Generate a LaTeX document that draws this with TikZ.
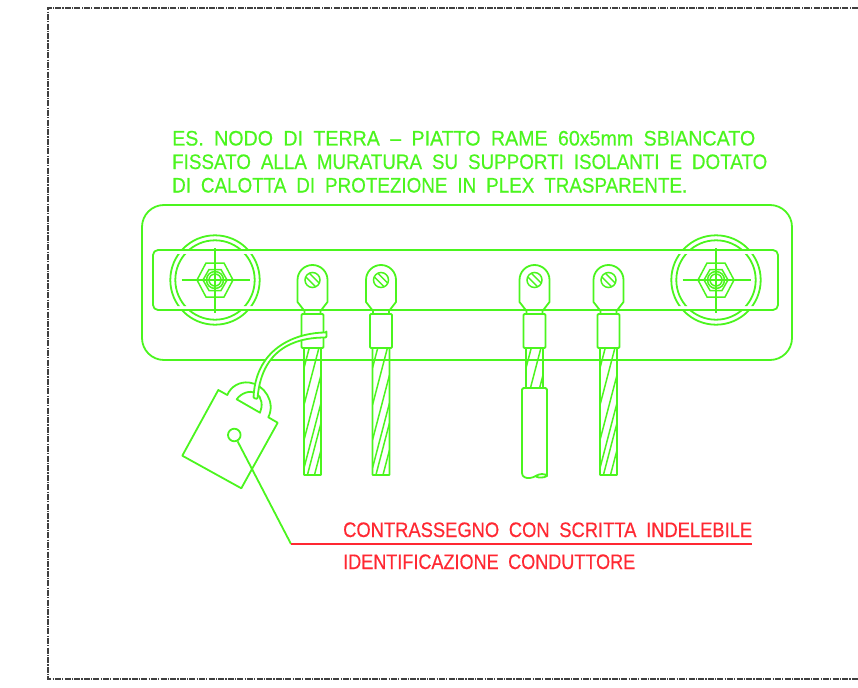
\documentclass[tikz,border=0pt]{standalone}
\usepackage{graphicx}
\usepackage{fontspec}
\setmainfont[WordSpace=1.9, FakeBold=0.5]{Liberation Sans}
\usetikzlibrary{positioning, calc}
\definecolor{cadgreen}{RGB}{75,245,30}
\definecolor{cadred}{RGB}{255,40,50}
\newcommand{\fitline}[2]{\resizebox{#1}{\height}{#2}}
\tikzset{
x=1pt, y=-1pt, % picture is laid out in reference pixels
part/.style={draw=cadgreen, line width=1.8pt, line join=round},
thinpart/.style={draw=cadgreen, line width=1.5pt},
sheet/.style={draw=black!75, line width=1.6pt, dash pattern=on 6pt off 1.2pt on 1.2pt off 1.2pt},
notetext/.style={text=cadgreen, inner sep=0pt, anchor=base west, font=\fontsize{21}{24}\selectfont},
tagtext/.style={text=cadred, inner sep=0pt, anchor=base west, font=\fontsize{21}{24}\selectfont},
}

\begin{document}
\begin{tikzpicture}
\useasboundingbox (0,0) rectangle (858,687);

% sheet border
\draw[sheet] (858,8) -- (48,8) -- (48,679) -- (858,679);

% note above the bar
\node[notetext] at (172,145.5) (noteone) {\fitline{583pt}{ES. NODO DI TERRA – PIATTO RAME 60x5mm SBIANCATO}};
\node[notetext] at (172,169) (notetwo) {\fitline{595pt}{FISSATO ALLA MURATURA SU SUPPORTI ISOLANTI E DOTATO}};
\node[notetext] at (172,192.5) (notethree) {\fitline{515pt}{DI CALOTTA DI PROTEZIONE IN PLEX TRASPARENTE.}};

% cover and copper bar
\draw[part, rounded corners=22pt] (142,205) rectangle (792,360);
\draw[part, rounded corners=5pt] (153,250) rectangle (778,310);

% supports: the rings stop short of the bar edges
\begin{scope}
\clip (0,200) rectangle (858,250) (0,254) rectangle (858,306) (0,310) rectangle (858,370);
\foreach \cx in {215,716} {
  \draw[part] (\cx,280) circle[radius=44.7];
  \draw[part] (\cx,280) circle[radius=39.7];
}
\end{scope}
\foreach \cx in {215,716} {
  \begin{scope}[shift={(\cx,280)}]
  \draw[thinpart] (-18,0) -- (-9,-17) -- (9,-17) -- (18,0) -- (9,17) -- (-9,17) -- cycle;
  \draw[thinpart] (-12,0) -- (-6,-10.5) -- (6,-10.5) -- (12,0) -- (6,10.5) -- (-6,10.5) -- cycle;
  \draw[thinpart] (0,0) circle[radius=8.5];
  \draw[thinpart] (0,0) circle[radius=6];
  \draw[thinpart] (-33.5,0) -- (34.5,0);
  \draw[thinpart] (0,-32) -- (0,33);
  \end{scope}
}

% lugs and stranded conductors
\foreach \cx/\wireend in {312.5/475, 381/475, 534.5/389, 608.5/475} {
  \begin{scope}[shift={(\cx,0)}]
  \draw[part] (-8,314) -- (-8,311) -- (-15,302) -- (-15,280)
    .. controls (-15,271.7) and (-8.3,265) .. (0,265)
    .. controls (8.3,265) and (15,271.7) .. (15,280)
    -- (15,302) -- (8,311) -- (8,314);
  \draw[thinpart] (0,280) circle[radius=7.5];
  \draw[thinpart] (-2.8,273.6) -- (6.4,282.8);
  \draw[thinpart] (-6.4,277.2) -- (2.8,286.4);
  \draw[part, rounded corners=1pt] (-11,314) rectangle (11,348);
  \draw[part, rounded corners=0.5pt] (-8.5,348) rectangle (8.5,\wireend);
  \begin{scope}
  \clip (-8.5,348) rectangle (8.5,\wireend);
  \foreach \s in {303,340,375,403,423,450} {
    \draw[thinpart] (8.5,\s) -- (-8.5,\s+65);
  }
  \end{scope}
  \end{scope}
}

% insulation on the third conductor
\draw[part, fill=white, rounded corners=1.5pt] (522,473) -- (522,388) -- (547,388) -- (547,476);
\draw[part] (522,473) .. controls (522,477) and (526,478.5) .. (530,478)
  .. controls (535,477.5) and (537,474) .. (542,474)
  .. controls (545,474) and (547,475) .. (547,476)
  .. controls (544,478) and (538,478) .. (536,476.5);

% tag and its tie
\draw[part] (218.3,390) -- (227.3,395)
  .. controls (231,386) and (240,381.5) .. (249,382.5)
  .. controls (264,384) and (276,402) .. (268.3,417.3)
  -- (277.7,422.7) -- (241.3,488.3) -- (182.3,455.7) -- cycle;
\draw[part] (236.7,399.3) .. controls (241,393) and (250,390) .. (256,393)
  .. controls (262,397) and (263,406) .. (260,412.7) -- cycle;
\draw[part, fill=white, rounded corners=1pt] (326.5,332.5) -- (326.5,337.5)
  .. controls (305,337.5) and (262,342) .. (257.5,399) -- (253.5,398)
  .. controls (256,345) and (300,332.5) .. (326.5,332.5) -- cycle;
\node[part, circle, minimum size=12.6pt, inner sep=0pt] at (234.3,435) (taghole) {};

% leader with the red label
\coordinate (elbow) at (291,544);
\coordinate (labelend) at (752,544);
\draw[part] (taghole) -- (elbow);
\draw[draw=cadred, line width=1.8pt] (elbow) -- (labelend);
\node[tagtext] at (343,537) (labelone) {\fitline{409pt}{CONTRASSEGNO CON SCRITTA INDELEBILE}};
\node[tagtext] at (343,569) (labeltwo) {\fitline{292pt}{IDENTIFICAZIONE CONDUTTORE}};

\end{tikzpicture}
\end{document}
